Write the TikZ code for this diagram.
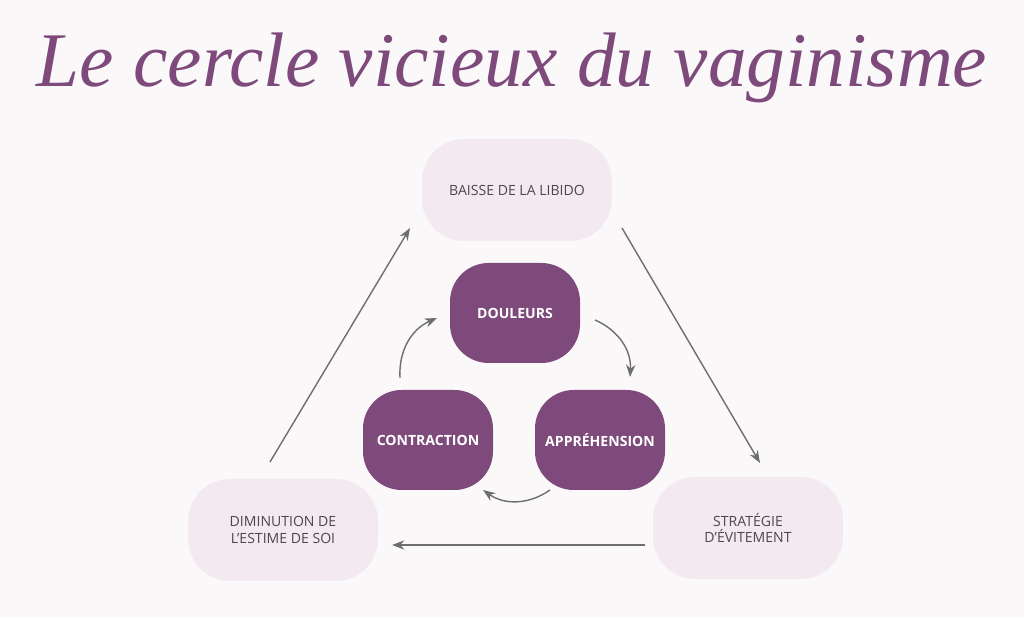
\documentclass[tikz,border=0pt]{standalone}
\usepackage{fontspec}
\setmainfont{Open Sans}
\newfontfamily\titlefont{Liberation Serif}
\usetikzlibrary{arrows.meta, positioning, shapes.geometric}
\definecolor{plum}{HTML}{7E4A7B}
\definecolor{blush}{HTML}{F3EAF1}
\definecolor{paper}{HTML}{FBF8F9}
\definecolor{ink}{HTML}{4A4A4A}
\newlength{\px}\setlength{\px}{0.02cm}
\tikzset{
  soft/.style={fill=blush, rounded corners=24pt, minimum width=190\px, minimum height=102\px, align=center, font=\footnotesize, text=ink},
  pebble/.style={fill=plum, rounded corners=22pt, inner sep=1pt, minimum width=130\px, minimum height=100\px, align=center, font=\footnotesize\bfseries, text=white},
  flow/.style={-{Stealth[length=7pt]}, draw=ink!80, line width=0.8pt}
}
\begin{document}
\begin{tikzpicture}[x=0.02cm, y=-0.02cm]
  \fill[paper] (0,0) rectangle (1024,617);
  \node[text=plum, font=\titlefont\itshape\fontsize{44}{48}\selectfont] (title) at (512,68) {Le cercle vicieux du vaginisme};

  \node[soft] (libido) at (517,190) {BAISSE DE LA LIBIDO};
  \node[soft] (evit) at (748,528) {STRATÉGIE\\D’ÉVITEMENT};
  \node[soft] (estime) at (283,530) {DIMINUTION DE\\L’ESTIME DE SOI};

  \node[pebble] (doul) at (515,313) {DOULEURS};
  \node[pebble] (contr) at (428,440) {CONTRACTION};
  \node[pebble] (appr) at (600,440) {APPRÉHENSION};

  \coordinate (a1) at (270,462); \coordinate (a2) at (410,228);
  \coordinate (b1) at (622,228); \coordinate (b2) at (760,463);
  \coordinate (c1) at (645,545); \coordinate (c2) at (392,545);
  \draw[flow] (a1) -- (a2);
  \draw[flow] (b1) -- (b2);
  \draw[flow] (c1) -- (c2);

  \coordinate (d1) at (400,378); \coordinate (d2) at (437,318);
  \coordinate (e1) at (595,320); \coordinate (e2) at (630,377);
  \coordinate (f1) at (550,490); \coordinate (f2) at (483,490);
  \draw[flow] (d1) to[bend left=35] (d2);
  \draw[flow] (e1) to[bend left=35] (e2);
  \draw[flow] (f1) to[bend left=35] (f2);
\end{tikzpicture}
\end{document}
